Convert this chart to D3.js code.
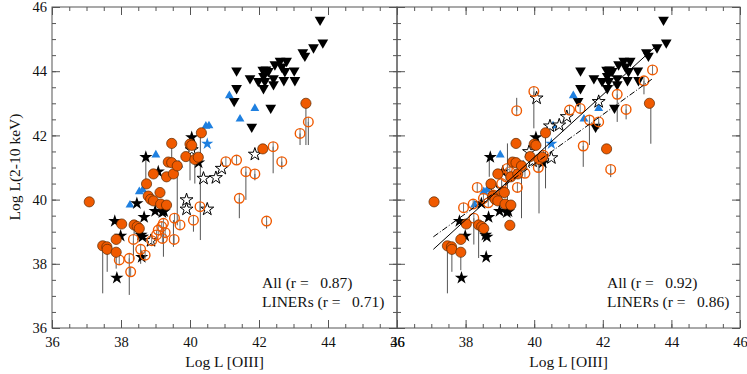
<!DOCTYPE html>
<html>
<head>
<meta charset="utf-8">
<script src="https://cdn.jsdelivr.net/npm/d3@7"></script>
<style>
  body { margin: 0; background: #fff; }
  svg text { font-family: "Liberation Serif", "Times New Roman", serif; fill: #111; }
</style>
</head>
<body>
<svg id="chart" width="747" height="374"></svg>
<script>
const majorTicks = [36, 38, 40, 42, 44, 46];
const minorTicks = d3.range(36, 46.01, 0.5);
const xTitle = "Log L [OIII]";
const yTitle = "Log L(2-10 keV)";
const corrLeft = ["All (r =   0.87)", "LINERs (r =   0.71)"];
const corrRight = ["All (r =   0.92)", "LINERs (r =   0.86)"];

// black down triangles (same in both panels)
const downTri = [
  [43.77, 45.6], [43.85, 44.89], [43.58, 44.74], [43.27, 44.59], [43.33, 44.48],
  [43.02, 44.02], [43.04, 43.72], [42.80, 44.32], [42.61, 44.32], [42.46, 44.21],
  [42.66, 44.14], [42.75, 44.0], [42.72, 43.72], [42.42, 43.78], [42.42, 43.59],
  [42.27, 44.0], [42.11, 44.04], [42.13, 43.85], [41.98, 43.69], [42.17, 43.69],
  [42.13, 43.47], [41.74, 43.78], [41.35, 44.02], [41.35, 43.47], [41.28, 43.07],
  [42.34, 42.86], [41.79, 42.27], [42.2, 44.05]
];
// blue up triangles
const blueTri = [
  [41.14, 43.24], [41.88, 42.84], [41.45, 42.51], [40.46, 42.29], [40.55, 42.3],
  [39.01, 41.39], [38.26, 39.83], [38.53, 40.25], [38.63, 40.3], [39.68, 41.08]
];
const blueStar = [[40.5, 41.74]];
// black filled stars
const blackStar = [
  [38.72, 41.32], [39.08, 40.87], [38.46, 39.88], [38.67, 39.45], [37.82, 39.33],
  [37.99, 38.87], [38.58, 38.9], [38.62, 38.84], [37.88, 37.56], [38.6, 38.21],
  [38.99, 39.64], [39.2, 39.6], [39.25, 39.63], [40.05, 41.94], [40.25, 41.15]
];
// open stars, left and right panel
const openStarL = [
  [40.05, 41.55], [40.39, 40.66], [40.75, 40.68], [40.92, 40.97], [39.9, 39.99],
  [39.9, 39.7], [40.5, 39.7], [41.88, 41.41], [38.87, 38.72]
];
const openStarR = [
  [40.07, 43.16], [40.46, 42.29], [40.73, 42.32], [40.95, 42.58], [39.85, 41.49],
  [39.95, 41.2], [40.5, 41.3], [41.88, 43.05], [38.87, 40.3]
];
// orange filled circles
const filledCirc = [
  [37.08, 39.93], [37.47, 38.56], [37.59, 38.53], [37.6, 38.45], [37.86, 38.76],
  [37.86, 38.36], [38.02, 39.24], [38.38, 39.21], [38.47, 39.16], [38.53, 39.1],
  [38.74, 40.49], [38.79, 40.11], [38.86, 40.01], [38.94, 39.96], [38.94, 40.8],
  [39.13, 40.22], [39.15, 39.86], [39.32, 39.83], [39.32, 40.71], [39.52, 40.8],
  [39.37, 41.17], [39.47, 41.15], [39.47, 41.75], [39.63, 41.05], [39.88, 41.34],
  [40.0, 41.73], [40.05, 41.69], [40.14, 41.25], [40.24, 41.32], [40.33, 42.08],
  [42.11, 41.58], [43.36, 43.0]
];
const filledCircR = [[39.29, 39.2]];
// orange open circles
const openCircL = [
  [37.95, 38.12], [38.24, 38.17], [38.28, 37.75], [38.36, 38.76], [38.57, 38.45],
  [38.7, 38.27], [38.89, 38.72], [39.03, 38.9], [39.08, 39.05], [39.18, 39.16],
  [39.23, 39.26], [39.28, 38.97], [39.2, 38.79], [39.54, 38.76], [39.55, 39.42],
  [39.71, 39.21], [40.29, 39.78], [40.1, 39.36], [41.04, 41.18], [41.35, 41.23],
  [41.43, 40.04], [41.62, 40.87], [41.88, 40.8], [42.22, 39.33], [42.41, 41.65],
  [42.66, 41.18], [43.19, 42.06], [43.43, 42.42]
];
const openCircR = [
  [37.94, 39.75], [38.22, 39.86], [38.24, 39.42], [38.34, 40.38], [38.52, 40.04],
  [38.66, 39.9], [38.81, 40.14], [39.05, 40.5], [39.1, 40.25], [39.18, 40.71],
  [39.29, 40.87], [39.22, 40.97], [39.51, 40.38], [39.73, 40.82], [39.49, 42.77],
  [39.99, 43.37], [40.12, 41.0], [40.27, 41.38], [41.03, 42.79], [41.34, 42.84],
  [41.43, 41.67], [41.61, 42.48], [41.88, 42.42], [42.23, 40.94], [42.42, 43.28],
  [42.68, 42.81], [43.2, 43.7], [43.45, 44.04]
];
// vertical bars: [x, yTop, yBottom]
const barsL = [
  [37.47, 38.56, 37.08], [37.6, 38.45, 37.75], [37.86, 38.36, 37.85], [38.24, 38.17, 37.03],
  [38.36, 38.7, 38.1], [38.38, 39.21, 38.9], [38.57, 38.45, 38.0], [39.23, 39.16, 38.22],
  [39.52, 39.36, 38.53], [38.72, 41.32, 40.6], [39.47, 41.75, 41.3], [39.63, 41.05, 39.2],
  [40.0, 41.6, 40.6], [40.14, 41.25, 40.5], [40.3, 42.08, 38.74], [41.43, 40.04, 39.42],
  [41.62, 40.87, 39.99], [42.41, 41.65, 40.82], [42.66, 41.18, 40.95], [43.19, 42.06, 41.7],
  [43.36, 43.0, 41.7], [43.43, 42.42, 41.7], [42.22, 39.33, 39.1], [41.88, 40.8, 40.6],
  [40.1, 39.36, 39.0]
];
const barsR = [
  [37.47, 38.56, 37.08], [37.6, 38.45, 37.75], [37.86, 38.36, 37.8], [38.24, 39.42, 38.6],
  [38.38, 39.27, 38.18], [38.69, 41.32, 40.71], [39.05, 40.8, 39.57], [39.22, 41.75, 39.6],
  [39.63, 41.05, 39.42], [40.14, 41.2, 39.57], [40.33, 42.08, 40.35], [39.99, 43.37, 42.22],
  [39.49, 43.17, 42.77], [41.43, 41.67, 41.02], [41.61, 42.48, 41.7], [41.88, 42.42, 42.2],
  [42.42, 43.28, 42.42], [42.68, 42.81, 42.5], [43.2, 43.7, 43.28], [43.4, 43.0, 41.74],
  [42.23, 40.94, 40.7]
];
// regression lines in right panel (end points)
const fitSolid = [[37.06, 38.45], [43.5, 44.73]];
const fitDashDot = [[37.06, 38.84], [43.43, 43.75]];

const orange = "#f05a00";
const blue = "#1f80e0";

const svg = d3.select("#chart");
const y = d3.scaleLinear().domain([36, 46]).range([328, 7]);
const xLeft = d3.scaleLinear().domain([36, 46]).range([52, 397]);
const xRight = d3.scaleLinear().domain([36, 46]).range([397, 740]);

function drawAxes(x, withYLabels) {
  const g = svg.append("g");
  const [xa, xb] = x.range();
  const [ya, yb] = y.range();

  function addAxis(axis, tx, ty) {
    const a = g.append("g").attr("transform", `translate(${tx},${ty})`).call(axis);
    a.select(".domain").remove();
    a.selectAll("line").attr("stroke", "#555");
    a.selectAll("text").attr("font-size", 14.5).attr("font-family", "Liberation Serif").attr("fill", "#111");
    return a;
  }
  // major
  addAxis(d3.axisBottom(x).tickValues(majorTicks).tickSize(-8).tickPadding(9).tickFormat(d3.format("d")), 0, ya);
  addAxis(d3.axisTop(x).tickValues(majorTicks).tickSize(-8).tickFormat(""), 0, yb);
  addAxis(d3.axisLeft(y).tickValues(majorTicks).tickSize(-8).tickPadding(5)
    .tickFormat(withYLabels ? d3.format("d") : ""), xa, 0);
  addAxis(d3.axisRight(y).tickValues(majorTicks).tickSize(-8).tickFormat(""), xb, 0);
  // minor
  addAxis(d3.axisBottom(x).tickValues(minorTicks).tickSize(-4).tickFormat(""), 0, ya);
  addAxis(d3.axisTop(x).tickValues(minorTicks).tickSize(-4).tickFormat(""), 0, yb);
  addAxis(d3.axisLeft(y).tickValues(minorTicks).tickSize(-4).tickFormat(""), xa, 0);
  addAxis(d3.axisRight(y).tickValues(minorTicks).tickSize(-4).tickFormat(""), xb, 0);

  g.append("rect")
    .attr("x", xa).attr("y", yb)
    .attr("width", xb - xa).attr("height", ya - yb)
    .attr("fill", "none").attr("stroke", "#555").attr("stroke-width", 1);

  g.append("text")
    .attr("x", (xa + xb) / 2).attr("y", 367)
    .attr("text-anchor", "middle").attr("font-size", 15.5)
    .text(xTitle);
}

function drawPanel(x, openStar, openCirc, extraFilled, bars, labels, fits) {
  const g = svg.append("g");
  const sym = (type, size) => d3.symbol().type(type).size(size)();

  g.selectAll(".bar").data(bars).join("line")
    .attr("x1", d => x(d[0])).attr("x2", d => x(d[0]))
    .attr("y1", d => y(d[1])).attr("y2", d => y(d[2]))
    .attr("stroke", "#555").attr("stroke-width", 1);

  g.selectAll(".dtri").data(downTri).join("path")
    .attr("d", sym(d3.symbolTriangle, 50))
    .attr("transform", d => `translate(${x(d[0])},${y(d[1])}) rotate(180)`)
    .attr("fill", "#000");

  g.selectAll(".btri").data(blueTri).join("path")
    .attr("d", sym(d3.symbolTriangle, 34))
    .attr("transform", d => `translate(${x(d[0])},${y(d[1])})`)
    .attr("fill", blue);

  g.selectAll(".bstar").data(blueStar).join("path")
    .attr("d", sym(d3.symbolStar, 46))
    .attr("transform", d => `translate(${x(d[0])},${y(d[1])})`)
    .attr("fill", blue);

  g.selectAll(".ostar").data(openStar).join("path")
    .attr("d", sym(d3.symbolStar, 52))
    .attr("transform", d => `translate(${x(d[0])},${y(d[1])})`)
    .attr("fill", "#fff").attr("stroke", "#000").attr("stroke-width", 1);

  g.selectAll(".kstar").data(blackStar).join("path")
    .attr("d", sym(d3.symbolStar, 54))
    .attr("transform", d => `translate(${x(d[0])},${y(d[1])})`)
    .attr("fill", "#000");

  const oc = g.selectAll(".ocirc").data(openCirc).join("g")
    .attr("transform", d => `translate(${x(d[0])},${y(d[1])})`);
  oc.append("line").attr("y1", -4.8).attr("y2", 4.8)
    .attr("stroke", "#777").attr("stroke-width", 1);
  oc.append("circle").attr("r", 4.8)
    .attr("fill", "none").attr("stroke", orange).attr("stroke-width", 1.4);

  g.selectAll(".fcirc").data(filledCirc.concat(extraFilled)).join("circle")
    .attr("cx", d => x(d[0])).attr("cy", d => y(d[1])).attr("r", 5.1)
    .attr("fill", orange).attr("stroke", "#5a2800").attr("stroke-width", 0.7);

  if (fits) {
    const line = d3.line().x(d => x(d[0])).y(d => y(d[1]));
    g.append("path").attr("d", line(fits[0]))
      .attr("stroke", "#000").attr("fill", "none").attr("stroke-width", 1);
    g.append("path").attr("d", line(fits[1]))
      .attr("stroke", "#000").attr("fill", "none").attr("stroke-width", 1)
      .attr("stroke-dasharray", "6,2,1,2");
  }

  const [xa] = x.range();
  g.selectAll(".corr").data(labels).join("text")
    .attr("x", xa + 210).attr("y", (d, i) => 288 + i * 19)
    .attr("font-size", 15.5)
    .style("white-space", "pre")
    .text(d => d);
}

drawPanel(xLeft, openStarL, openCircL, [], barsL, corrLeft, null);
drawPanel(xRight, openStarR, openCircR, filledCircR, barsR, corrRight, [fitSolid, fitDashDot]);
drawAxes(xLeft, true);
drawAxes(xRight, false);

svg.append("text")
  .attr("transform", "translate(20,167) rotate(-90)")
  .attr("text-anchor", "middle").attr("font-size", 15.5)
  .text(yTitle);
</script>
</body>
</html>
